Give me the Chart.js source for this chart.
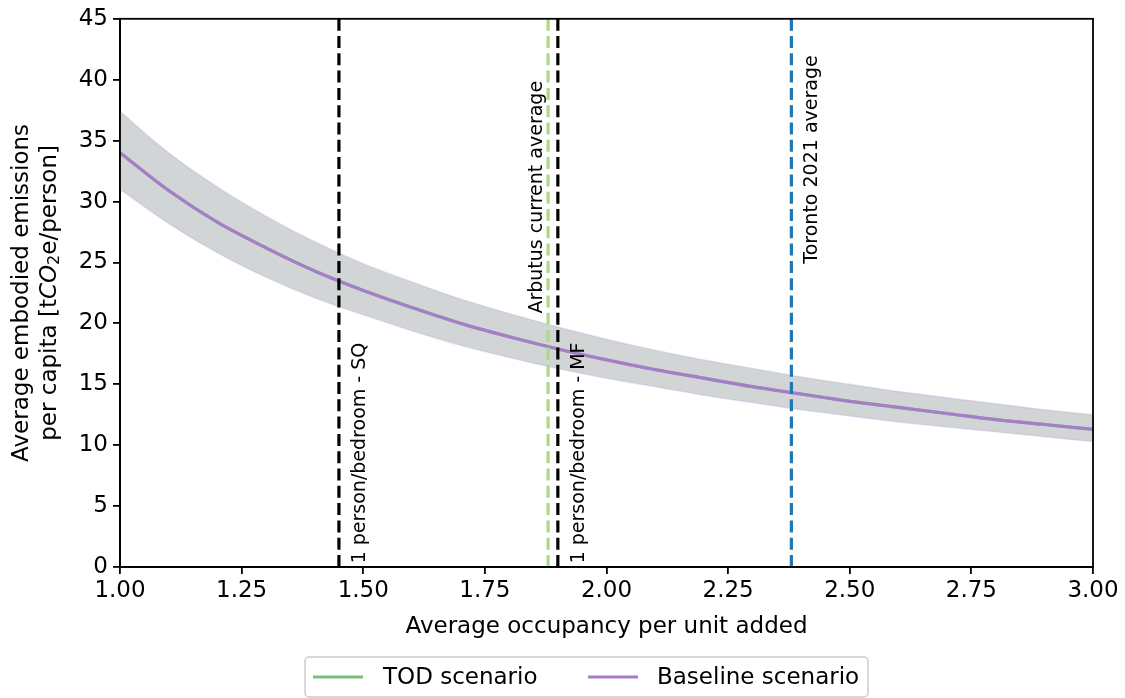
<!DOCTYPE html>
<html>
<head>
<meta charset="utf-8">
<style>
  html, body { margin: 0; padding: 0; background: #fff; }
  #wrap { width: 1125px; height: 698px; }
</style>
<script src="https://cdn.jsdelivr.net/npm/chart.js@4.4.1/dist/chart.umd.min.js"></script>
</head>
<body>
<div id="wrap"><canvas id="chart" width="1125" height="698"></canvas></div>
<script>
// data
const occupancy = [1.0, 1.1, 1.2, 1.3, 1.4, 1.5, 1.6, 1.7, 1.8, 1.9, 2.0, 2.1, 2.2, 2.3, 2.4, 2.5, 2.6, 2.7, 2.8, 2.9, 3.0];
const baseline = [34.0, 30.9, 28.3, 26.2, 24.3, 22.7, 21.3, 20.0, 18.9, 17.9, 17.0, 16.2, 15.5, 14.8, 14.2, 13.6, 13.1, 12.6, 12.1, 11.7, 11.3];
const tod = [34.0, 30.9, 28.3, 26.2, 24.3, 22.7, 21.3, 20.0, 18.9, 17.9, 17.0, 16.2, 15.5, 14.8, 14.2, 13.6, 13.1, 12.6, 12.1, 11.7, 11.3];
const bandUpper = [37.4, 34.0, 31.2, 28.8, 26.7, 24.9, 23.4, 22.0, 20.8, 19.7, 18.7, 17.8, 17.0, 16.3, 15.6, 15.0, 14.4, 13.9, 13.4, 12.9, 12.5];
const bandLower = [31.0, 28.2, 25.8, 23.8, 22.1, 20.7, 19.4, 18.2, 17.2, 16.3, 15.5, 14.8, 14.1, 13.5, 12.9, 12.4, 11.9, 11.5, 11.1, 10.7, 10.3];

// reference lines
const refNames = ["1 person/bedroom - SQ", "Arbutus current average", "1 person/bedroom - MF", "Toronto 2021 average"];
const refX = [1.45, 1.88, 1.90, 2.38];
const refColors = ["#000000", "#a9dc7f", "#000000", "#1f77b4"];
const refLabelX = [1.48, 1.843, 1.93, 2.41];
const refLabelY = [0.3, 20.8, 0.3, 24.9];

const legendNames = ["TOD scenario", "Baseline scenario"];
const legendColors = ["#7cc078", "#a57dc8"];

const FONT = '"DejaVu Sans", sans-serif';

const toPts = ys => occupancy.map((x, i) => ({ x: x, y: ys[i] }));

// lower "order" is drawn on top
const datasets = [
    {
        label: "band upper",
        data: toPts(bandUpper),
        borderColor: "rgba(195,165,220,0.35)",
        borderWidth: 1.5,
        backgroundColor: "#d1d5d5",
        fill: "+1",
        pointRadius: 0,
        order: 10,
        cubicInterpolationMode: "monotone"
    },
    {
        label: "band lower",
        data: toPts(bandLower),
        borderColor: "rgba(195,165,220,0.35)",
        borderWidth: 1.5,
        fill: false,
        pointRadius: 0,
        order: 9,
        cubicInterpolationMode: "monotone"
    },
    {
        label: legendNames[0],
        data: toPts(tod),
        borderColor: legendColors[0],
        borderWidth: 3,
        fill: false,
        pointRadius: 0,
        order: 5,
        cubicInterpolationMode: "monotone"
    },
    {
        label: legendNames[1],
        data: toPts(baseline),
        borderColor: legendColors[1],
        borderWidth: 3.2,
        fill: false,
        pointRadius: 0,
        order: 4,
        cubicInterpolationMode: "monotone"
    }
];

refX.forEach((x, i) => {
    datasets.push({
        label: refNames[i],
        data: [{ x: x, y: 0 }, { x: x, y: 45 }],
        borderColor: refColors[i],
        borderWidth: 3.2,
        borderDash: [12, 5.3],
        fill: false,
        pointRadius: 0,
        order: 3 - i
    });
});

// frame, rotated labels, axis titles and legend
const decorPlugin = {
    id: "decor",
    afterDraw(chart) {
        const ctx = chart.ctx;
        const a = chart.chartArea;
        const xs = chart.scales.x;
        const ys = chart.scales.y;

        ctx.save();
        ctx.strokeStyle = "#000";
        ctx.lineWidth = 1.8;
        ctx.strokeRect(a.left, a.top, a.right - a.left, a.bottom - a.top);

        // labels next to the reference lines
        ctx.fillStyle = "#000";
        ctx.font = "19px " + FONT;
        refNames.forEach((name, i) => {
            const px = xs.getPixelForValue(refLabelX[i]);
            const py = ys.getPixelForValue(refLabelY[i]);
            ctx.save();
            ctx.translate(px - 3, py);
            ctx.rotate(-Math.PI / 2);
            ctx.textAlign = "left";
            ctx.textBaseline = "top";
            ctx.fillText(name, 0, 0);
            ctx.restore();
        });

        // x title
        ctx.font = "23px " + FONT;
        ctx.textAlign = "center";
        ctx.textBaseline = "middle";
        ctx.fillText("Average occupancy per unit added", (a.left + a.right) / 2, 627);

        // y title (two lines, CO in italics with subscript 2)
        const cy = (a.top + a.bottom) / 2;
        ctx.save();
        ctx.translate(22, cy);
        ctx.rotate(-Math.PI / 2);
        ctx.fillText("Average embodied emissions", 0, 0);
        ctx.restore();

        ctx.save();
        ctx.translate(50, cy);
        ctx.rotate(-Math.PI / 2);
        const parts = [
            { t: "per capita [t", f: "23px " + FONT, dy: 0 },
            { t: "CO", f: "italic 23px " + FONT, dy: 0 },
            { t: "2", f: "16px " + FONT, dy: 5 },
            { t: "e/person]", f: "23px " + FONT, dy: 0 }
        ];
        let total = 0;
        parts.forEach(p => { ctx.font = p.f; p.w = ctx.measureText(p.t).width; total += p.w; });
        let cx = -total / 2;
        ctx.textAlign = "left";
        parts.forEach(p => {
            ctx.font = p.f;
            ctx.fillText(p.t, cx, p.dy);
            cx += p.w;
        });
        ctx.restore();

        // legend
        ctx.strokeStyle = "#cccccc";
        ctx.lineWidth = 1.5;
        ctx.beginPath();
        ctx.roundRect(305, 657, 563, 40, 4);
        ctx.fillStyle = "rgba(255,255,255,0.8)";
        ctx.fill();
        ctx.stroke();

        const swatchX = [313, 588];
        const textX = [383, 657];
        ctx.font = "23px " + FONT;
        ctx.textAlign = "left";
        ctx.textBaseline = "middle";
        legendNames.forEach((name, i) => {
            ctx.strokeStyle = legendColors[i];
            ctx.lineWidth = 3.2;
            ctx.beginPath();
            ctx.moveTo(swatchX[i], 677);
            ctx.lineTo(swatchX[i] + 50, 677);
            ctx.stroke();
            ctx.fillStyle = "#000";
            ctx.fillText(name, textX[i], 678);
        });
        ctx.restore();
    }
};

const chartCanvas = document.getElementById("chart");
new Chart(chartCanvas, {
    type: "line",
    data: { datasets },
    options: {
        responsive: false,
        animation: false,
        layout: { padding: { top: 17, right: 32, left: 0, bottom: 0 } },
        plugins: {
            legend: { display: false },
            tooltip: { enabled: false }
        },
        scales: {
            x: {
                type: "linear",
                min: 1,
                max: 3,
                afterFit: scale => { scale.height = 131; },
                border: { display: true, color: "#000", width: 1.8 },
                grid: { display: true, drawOnChartArea: false, drawTicks: true, tickLength: 7, color: "#000", lineWidth: 1.8 },
                ticks: {
                    stepSize: 0.25,
                    color: "#000",
                    font: { family: FONT, size: 23 },
                    padding: 3,
                    maxRotation: 0,
                    callback: v => v.toFixed(2)
                }
            },
            y: {
                min: 0,
                max: 45,
                afterFit: scale => { scale.width = 120; },
                border: { display: true, color: "#000", width: 1.8 },
                grid: { display: true, drawOnChartArea: false, drawTicks: true, tickLength: 7, color: "#000", lineWidth: 1.8 },
                ticks: {
                    stepSize: 5,
                    color: "#000",
                    font: { family: FONT, size: 23 },
                    padding: 5
                }
            }
        }
    },
    plugins: [decorPlugin]
});
</script>
</body>
</html>
